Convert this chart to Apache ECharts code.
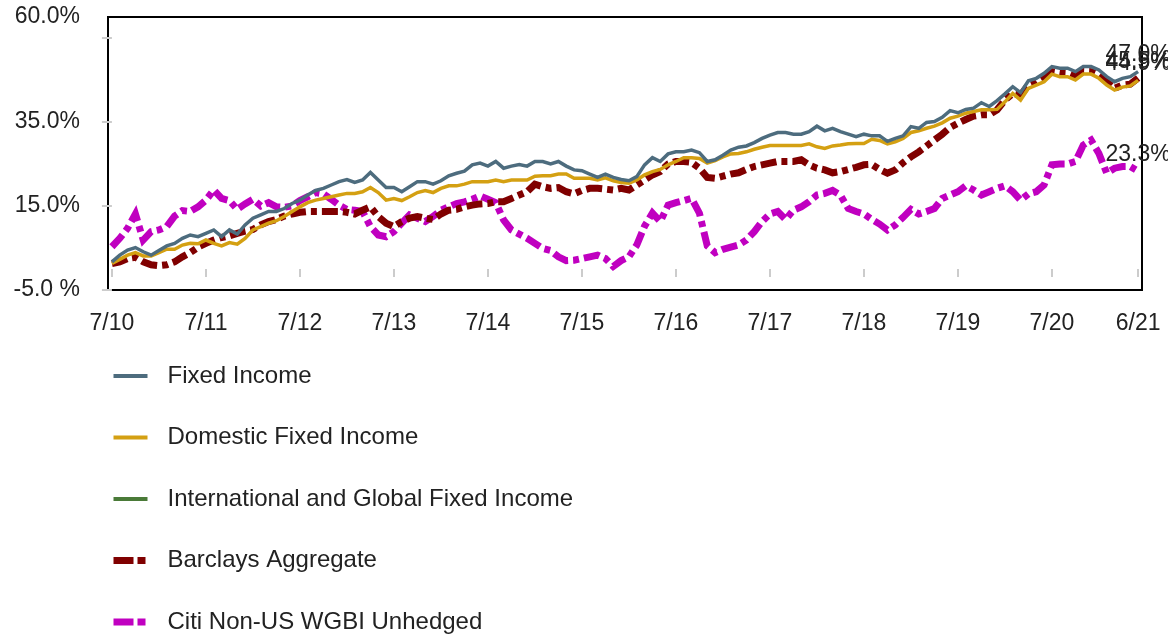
<!DOCTYPE html>
<html>
<head>
<meta charset="utf-8">
<script src="https://cdn.jsdelivr.net/npm/echarts@6.0.0/dist/echarts.min.js"></script>
<style>
  html, body { margin: 0; padding: 0; background: #fff; }
  #chart { width: 1168px; height: 637px; }
</style>
</head>
<body>
<div id="chart"></div>
<script>
// monthly points, 7/10 .. 6/21 (132 months)
const xTickIndex = [0, 12, 24, 36, 48, 60, 72, 84, 96, 108, 120, 131]
const xTickLabels = ['7/10', '7/11', '7/12', '7/13', '7/14', '7/15', '7/16', '7/17', '7/18', '7/19', '7/20', '6/21']
const yLabelValues = [-5, 15, 35, 60]
const yTickValues = [-5, 15, 35, 55]

const fixedIncome = [
  1.7, 3.3, 4.5, 5.1, 4.1, 3.3, 4.4, 5.5, 6.1, 7.3, 8.1, 7.7, 8.5, 9.3, 7.7, 9.3, 8.3, 10.5, 12.1, 12.9,
  13.7, 13.7, 14.4, 15.6, 16.4, 17.6, 18.7, 19.2, 20.0, 20.8, 21.3, 20.6, 21.2,
  23.0, 21.2, 19.4, 19.4, 18.4, 19.6, 20.8, 20.8, 20.2, 21.0, 22.2, 22.8, 23.3, 24.8, 25.2, 24.5, 25.6, 24.0,
  24.5, 24.9, 24.5, 25.6, 25.6, 25.0, 25.6, 24.5, 23.6, 23.4, 22.6, 21.8, 22.6, 21.8, 21.3,
  21.0, 22.0, 24.8, 26.5, 25.6, 27.4, 27.9, 27.9, 28.3, 27.7, 25.6, 26.0, 27.1, 28.3, 29.0, 29.3, 30.1,
  31.1, 31.9, 32.5, 32.5, 32.1, 32.1, 32.7, 34.0, 32.9, 33.5, 32.7, 32.1, 31.5, 32.1, 31.7, 31.7, 30.4,
  31.1, 31.7, 33.9, 33.5, 34.9, 35.1, 36.1, 37.7, 37.2, 38.0, 38.3, 39.6, 38.7, 40.1, 41.7, 43.4, 42.0,
  44.8, 45.4, 46.6, 48.2, 47.8, 47.8, 47.0, 48.2, 48.2, 47.4, 45.8, 44.6, 45.4, 45.8, 47.0
]
const domesticFixedIncome = [
  1.3, 2.3, 3.3, 3.9, 3.1, 3.1, 3.9, 4.7, 4.7, 5.7, 6.1, 6.0, 6.9, 6.1, 5.5, 6.3, 5.9, 7.3, 9.3, 10.1,
  10.9, 11.5, 12.5, 13.7, 14.8, 15.8, 16.4, 16.8, 17.2, 17.6, 18.0, 18.0, 18.4,
  19.4, 18.2, 16.4, 16.8, 16.3, 17.2, 18.2, 18.7, 18.2, 19.2, 19.8, 19.8, 20.2, 20.8, 20.8, 20.8, 21.2, 20.8,
  21.2, 21.2, 21.2, 22.1, 22.2, 22.2, 22.6, 22.6, 21.6, 21.6, 21.6, 21.2, 21.7, 21.0, 20.6,
  20.4, 21.2, 22.4, 23.2, 23.7, 24.8, 25.6, 26.5, 26.5, 26.3, 25.2, 25.8, 26.7, 27.4, 27.5, 27.9, 28.5,
  29.0, 29.4, 29.4, 29.4, 29.4, 29.4, 29.8, 29.1, 28.7, 29.3, 29.5, 29.8, 29.9, 29.9, 30.9, 30.6, 29.8,
  30.3, 31.1, 32.5, 32.9, 33.5, 34.0, 34.8, 35.9, 36.4, 37.1, 37.5, 37.9, 37.9, 38.0, 39.8, 41.8, 40.2,
  43.0, 43.8, 44.6, 46.4, 45.8, 45.8, 45.0, 46.4, 46.4, 45.4, 43.8, 42.6, 43.3, 43.6, 44.9
]
const intlGlobalFixedIncome = []
const barclaysAggregate = [
  1.3, 1.7, 2.5, 2.8, 1.7, 1.0, 0.8, 1.0, 1.7, 2.9, 3.9, 5.2, 6.1, 6.9, 7.5, 7.9, 8.5, 9.0, 9.4, 10.5,
  11.3, 11.8, 12.6, 13.1, 13.5, 13.7, 13.7, 13.7, 13.7, 13.7, 13.5, 13.1, 14.0,
  14.8, 12.5, 10.9, 10.1, 11.3, 12.1, 12.5, 12.1, 11.8, 13.1, 14.0, 14.2, 14.8, 15.2, 15.5, 15.6, 16.0, 16.0,
  16.8, 17.6, 18.4, 20.2, 19.6, 19.2, 19.4, 18.4, 17.9, 18.7, 19.2, 19.2, 19.0, 18.8, 19.2,
  18.8, 20.0, 21.2, 22.4, 23.2, 25.0, 25.6, 25.6, 25.4, 24.0, 21.8, 21.6, 22.1, 22.6, 22.9, 23.7, 24.4,
  24.8, 25.2, 25.6, 25.6, 25.6, 26.0, 24.8, 24.0, 23.6, 22.9, 23.2, 23.7, 24.2, 24.8, 24.9, 23.7, 22.8,
  23.6, 25.3, 26.7, 27.9, 29.3, 30.7, 32.1, 33.7, 34.7, 35.6, 36.4, 36.7, 36.7, 37.9, 40.2, 41.8, 41.4,
  43.8, 44.6, 45.8, 47.0, 46.7, 46.6, 45.8, 47.1, 47.0, 46.2, 44.6, 43.0, 43.8, 44.0, 45.5
]
const citiWgbi = [
  5.3, 7.3, 9.7, 13.1, 6.9, 8.9, 9.3, 10.1, 12.6, 13.9, 13.7, 14.8, 16.4, 18.8, 16.8, 16.3, 14.2, 15.5, 16.6, 15.0,
  15.8, 14.8, 14.7, 15.0, 16.3, 17.2, 18.2, 17.9, 16.6, 15.2, 14.2, 14.0, 13.7,
  10.1, 8.1, 7.7, 8.9, 10.9, 12.9, 12.1, 11.3, 12.5, 14.0, 14.8, 15.6, 16.0, 16.6, 17.4, 16.6, 15.8, 11.7,
  9.3, 8.3, 7.3, 6.1, 4.9, 4.4, 2.9, 2.0, 2.1, 2.5, 2.9, 3.3, 2.5, 0.6, 2.0,
  2.9, 5.7, 10.2, 13.3, 11.3, 15.2, 15.8, 16.3, 16.8, 13.3, 5.5, 3.9, 4.7, 5.2, 5.7, 6.9, 8.9,
  11.3, 13.1, 13.7, 11.8, 14.0, 14.8, 16.0, 17.6, 18.0, 18.7, 17.6, 14.4, 13.7, 13.1, 11.8, 10.7, 9.3,
  10.5, 12.3, 14.2, 13.1, 13.7, 14.4, 16.8, 17.6, 18.4, 19.8, 18.8, 17.6, 18.4, 19.2, 19.8, 18.4, 16.4,
  17.9, 18.4, 20.0, 24.8, 25.0, 25.0, 25.6, 29.5, 30.7, 27.5, 22.8, 24.0, 24.4, 24.4, 23.3
]

const FONT = 'Liberation Sans, Arial, sans-serif'
const DASH = [16, 5, 6, 5]
const pairs = arr => arr.map((v, i) => [i, v])
const endLabel = {
  show: true,
  formatter: p => p.value[1].toFixed(1) + '%',
  fontFamily: FONT,
  fontSize: 23,
  color: '#222',
  distance: 0,
  align: 'center',
  verticalAlign: 'bottom',
  offset: [0, -5]
}

function makeSeries (name, data, color, width, dashed, z) {
  return {
    name: name,
    type: 'line',
    data: pairs(data),
    symbol: 'none',
    z: z,
    lineStyle: {
      color: color,
      width: width,
      type: dashed ? DASH : 'solid',
      cap: 'butt',
      join: 'miter'
    },
    itemStyle: { color: color },
    endLabel: endLabel
  }
}

function legendItem (name, width, dashed) {
  return { name: name, lineStyle: { width: width, type: dashed ? [20, 4, 8, 4] : 'solid', cap: 'butt' } }
}

const myChart = echarts.init(document.getElementById('chart'), null, { renderer: 'canvas' })
const option = {
  animation: false,
  textStyle: { fontFamily: FONT },
  grid: {
    left: 108,
    right: 26,
    top: 17,
    bottom: 347,
    show: true,
    borderColor: '#000',
    borderWidth: 2,
    outerBoundsMode: 'none'
  },
  legend: {
    orient: 'vertical',
    left: 110,
    top: 364,
    padding: 0,
    itemWidth: 34,
    itemHeight: 14,
    itemGap: 37.5,
    itemStyle: { color: 'transparent', borderWidth: 0, opacity: 0 },
    textStyle: { fontFamily: FONT, fontSize: 24, color: '#222', padding: [0, 0, 0, 15] },
    data: [
      legendItem('Fixed Income', 4, false),
      legendItem('Domestic Fixed Income', 4, false),
      legendItem('International and Global Fixed Income', 4, false),
      legendItem('Barclays Aggregate', 7, true),
      legendItem('Citi Non-US WGBI Unhedged', 7, true)
    ]
  },
  xAxis: {
    type: 'value',
    min: -0.5,
    max: 131.5,
    axisLine: { show: false },
    splitLine: { show: false },
    axisTick: {
      show: true,
      customValues: xTickIndex,
      length: 8,
      lineStyle: { color: '#ccc', width: 2 }
    },
    axisLabel: {
      customValues: xTickIndex,
      formatter: v => xTickLabels[xTickIndex.indexOf(v)],
      margin: 22,
      fontFamily: FONT,
      fontSize: 23,
      color: '#222'
    }
  },
  yAxis: {
    type: 'value',
    min: -5,
    max: 60,
    axisLine: { show: false },
    splitLine: { show: false },
    axisTick: {
      show: true,
      customValues: yTickValues,
      length: 10,
      lineStyle: { color: '#ccc', width: 2 }
    },
    axisLabel: {
      customValues: yLabelValues,
      formatter: v => (v === -5 ? '-5.0 %' : v.toFixed(1) + '%'),
      margin: 28,
      fontFamily: FONT,
      fontSize: 23,
      color: '#222'
    }
  },
  series: [
    makeSeries('Fixed Income', fixedIncome, '#4D6C7E', 3.5, false, 6),
    makeSeries('Domestic Fixed Income', domesticFixedIncome, '#D4A012', 3.5, false, 5),
    makeSeries('International and Global Fixed Income', intlGlobalFixedIncome, '#4A7A38', 3.5, false, 4),
    makeSeries('Barclays Aggregate', barclaysAggregate, '#800000', 7, true, 3),
    makeSeries('Citi Non-US WGBI Unhedged', citiWgbi, '#C000C0', 7, true, 2)
  ]
}
myChart.setOption(option, true)
</script>
</body>
</html>
